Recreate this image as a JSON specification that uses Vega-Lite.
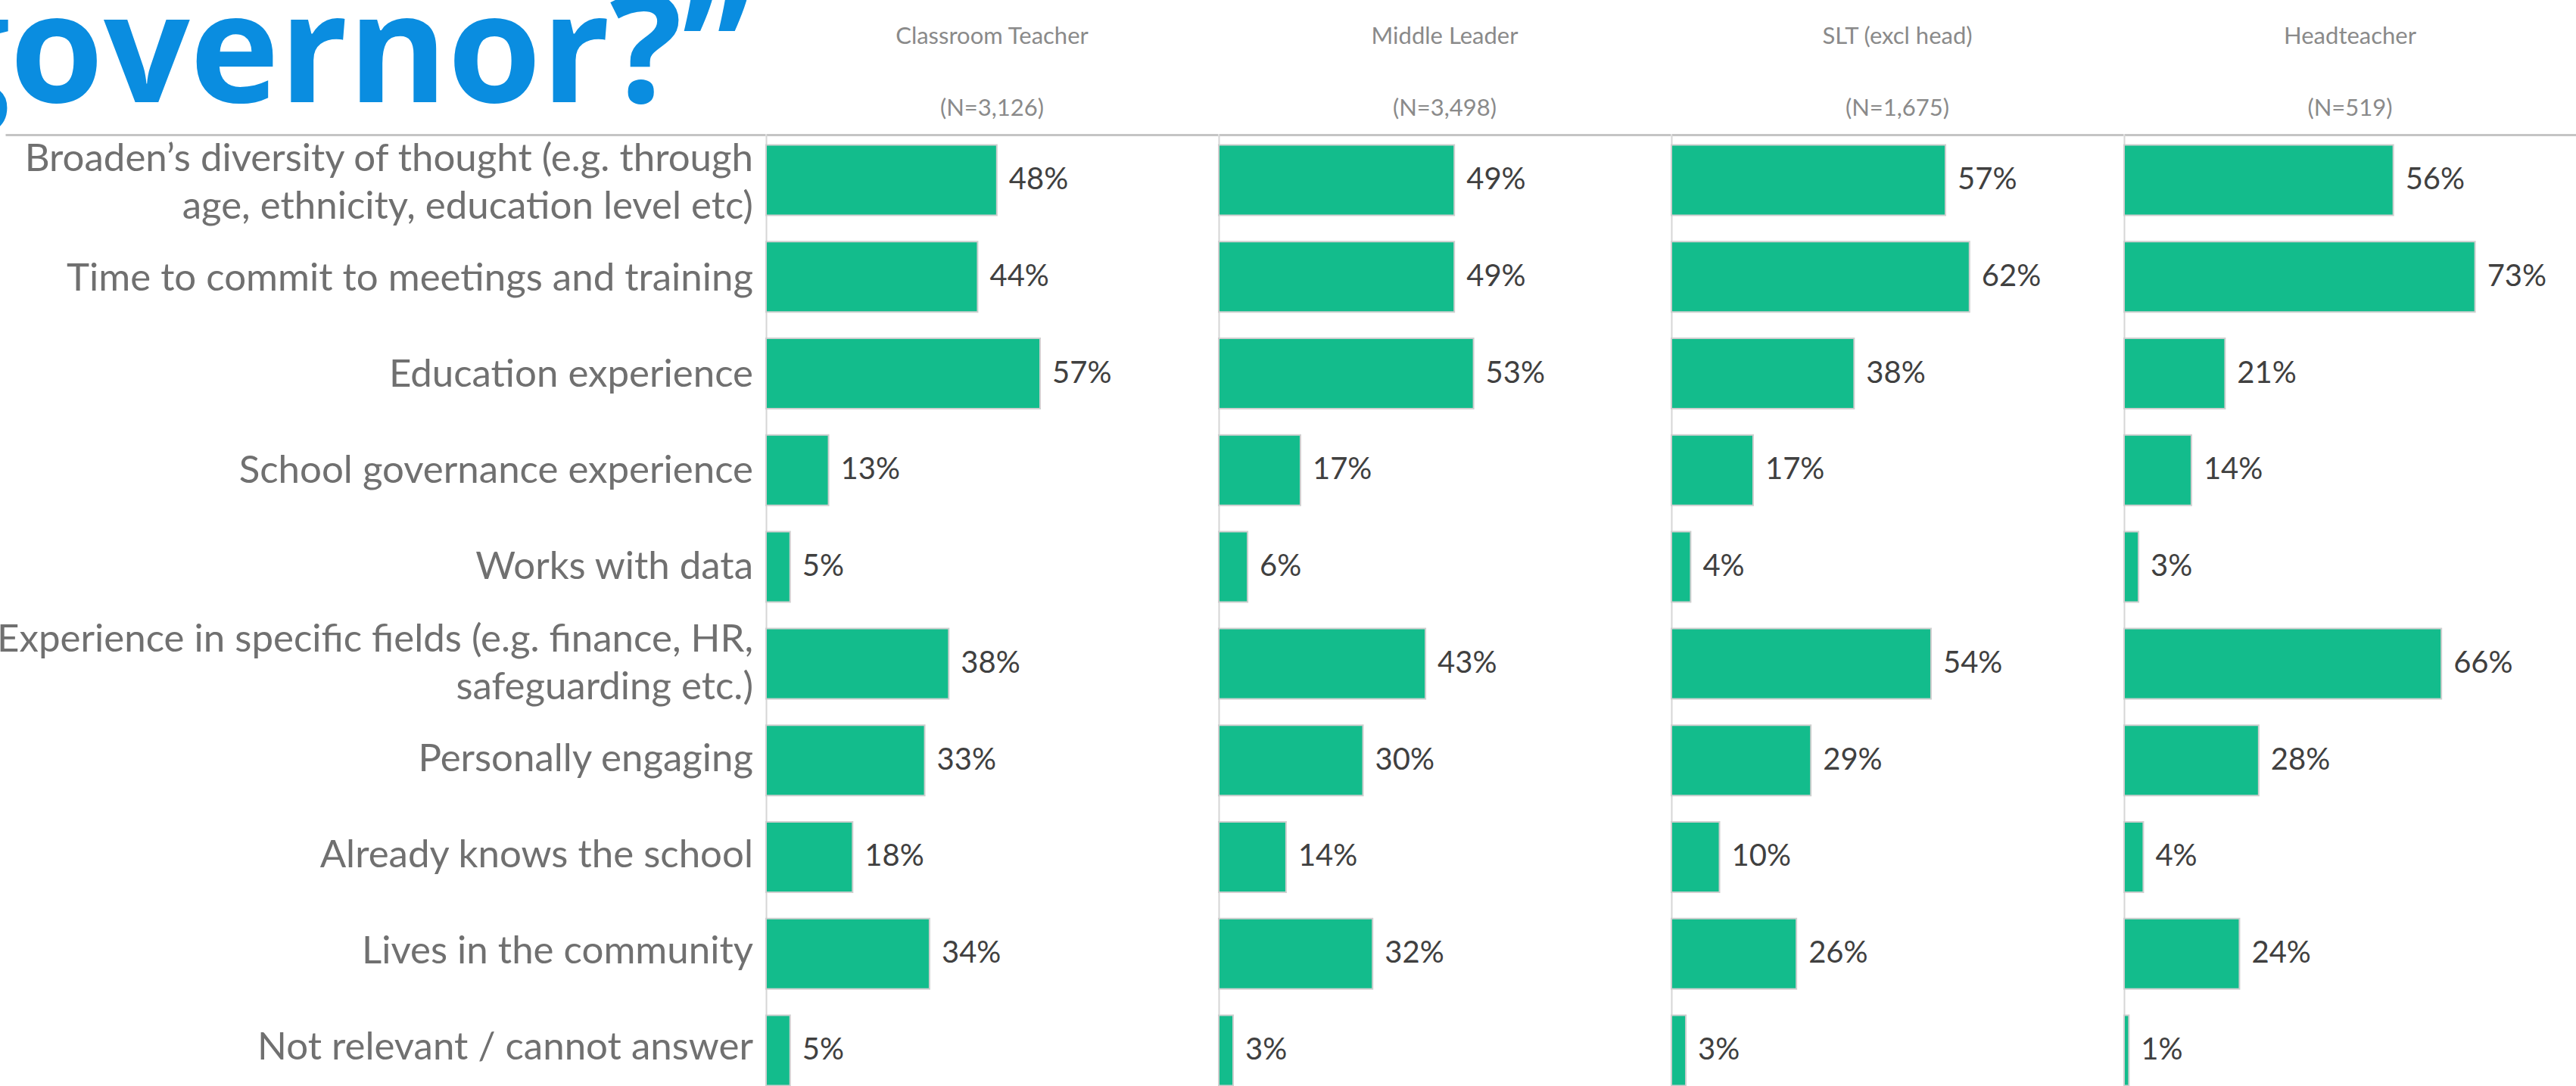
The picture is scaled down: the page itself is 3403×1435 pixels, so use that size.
{
  "$schema": "https://vega.github.io/schema/vega-lite/v6.json",
  "padding": {"left": -100, "top": -25, "right": 0, "bottom": 0},
  "background": "white",
  "spacing": 0,
  "config": {
    "view": {"stroke": null},
    "font": "Lato",
    "axis": {"minExtent": 0, "labelPadding": 0}
  },
  "datasets": {
    "survey": [
      {"item": "Broaden’s diversity of thought (e.g. through\nage, ethnicity, education level etc)", "role": "Classroom Teacher", "pct": 0.48},
      {"item": "Time to commit to meetings and training", "role": "Classroom Teacher", "pct": 0.44},
      {"item": "Education experience", "role": "Classroom Teacher", "pct": 0.57},
      {"item": "School governance experience", "role": "Classroom Teacher", "pct": 0.13},
      {"item": "Works with data", "role": "Classroom Teacher", "pct": 0.05},
      {"item": "Experience in specific fields (e.g. finance, HR,\nsafeguarding etc.)", "role": "Classroom Teacher", "pct": 0.38},
      {"item": "Personally engaging", "role": "Classroom Teacher", "pct": 0.33},
      {"item": "Already knows the school", "role": "Classroom Teacher", "pct": 0.18},
      {"item": "Lives in the community", "role": "Classroom Teacher", "pct": 0.34},
      {"item": "Not relevant / cannot answer", "role": "Classroom Teacher", "pct": 0.05},
      {"item": "Broaden’s diversity of thought (e.g. through\nage, ethnicity, education level etc)", "role": "Middle Leader", "pct": 0.49},
      {"item": "Time to commit to meetings and training", "role": "Middle Leader", "pct": 0.49},
      {"item": "Education experience", "role": "Middle Leader", "pct": 0.53},
      {"item": "School governance experience", "role": "Middle Leader", "pct": 0.17},
      {"item": "Works with data", "role": "Middle Leader", "pct": 0.06},
      {"item": "Experience in specific fields (e.g. finance, HR,\nsafeguarding etc.)", "role": "Middle Leader", "pct": 0.43},
      {"item": "Personally engaging", "role": "Middle Leader", "pct": 0.30},
      {"item": "Already knows the school", "role": "Middle Leader", "pct": 0.14},
      {"item": "Lives in the community", "role": "Middle Leader", "pct": 0.32},
      {"item": "Not relevant / cannot answer", "role": "Middle Leader", "pct": 0.03},
      {"item": "Broaden’s diversity of thought (e.g. through\nage, ethnicity, education level etc)", "role": "SLT (excl head)", "pct": 0.57},
      {"item": "Time to commit to meetings and training", "role": "SLT (excl head)", "pct": 0.62},
      {"item": "Education experience", "role": "SLT (excl head)", "pct": 0.38},
      {"item": "School governance experience", "role": "SLT (excl head)", "pct": 0.17},
      {"item": "Works with data", "role": "SLT (excl head)", "pct": 0.04},
      {"item": "Experience in specific fields (e.g. finance, HR,\nsafeguarding etc.)", "role": "SLT (excl head)", "pct": 0.54},
      {"item": "Personally engaging", "role": "SLT (excl head)", "pct": 0.29},
      {"item": "Already knows the school", "role": "SLT (excl head)", "pct": 0.10},
      {"item": "Lives in the community", "role": "SLT (excl head)", "pct": 0.26},
      {"item": "Not relevant / cannot answer", "role": "SLT (excl head)", "pct": 0.03},
      {"item": "Broaden’s diversity of thought (e.g. through\nage, ethnicity, education level etc)", "role": "Headteacher", "pct": 0.56},
      {"item": "Time to commit to meetings and training", "role": "Headteacher", "pct": 0.73},
      {"item": "Education experience", "role": "Headteacher", "pct": 0.21},
      {"item": "School governance experience", "role": "Headteacher", "pct": 0.14},
      {"item": "Works with data", "role": "Headteacher", "pct": 0.03},
      {"item": "Experience in specific fields (e.g. finance, HR,\nsafeguarding etc.)", "role": "Headteacher", "pct": 0.66},
      {"item": "Personally engaging", "role": "Headteacher", "pct": 0.28},
      {"item": "Already knows the school", "role": "Headteacher", "pct": 0.04},
      {"item": "Lives in the community", "role": "Headteacher", "pct": 0.24},
      {"item": "Not relevant / cannot answer", "role": "Headteacher", "pct": 0.01}
    ]
  },
  "data": {"name": "survey"},
  "hconcat": [
    {
      "width": 1004,
      "height": 1270,
      "title": {"text": "governor?”", "fontSize": 200, "font": "Open Sans", "fontWeight": "bold", "color": "#0a8de0", "anchor": "start", "dx": -96, "baseline": "alphabetic", "offset": -157},
      "transform": [{"filter": "datum.role === 'Classroom Teacher'"}],
      "encoding": {
        "y": {"field": "item", "type": "nominal", "scale": {"domain": ["Broaden’s diversity of thought (e.g. through\nage, ethnicity, education level etc)", "Time to commit to meetings and training", "Education experience", "School governance experience", "Works with data", "Experience in specific fields (e.g. finance, HR,\nsafeguarding etc.)", "Personally engaging", "Already knows the school", "Lives in the community", "Not relevant / cannot answer"], "paddingInner": 0.272, "paddingOuter": 0.106}, "axis": null},
        "x": {"datum": 1, "type": "quantitative", "scale": {"domain": [0, 1]}, "axis": {"orient": "top", "labels": false, "ticks": false, "grid": false, "title": null, "domainColor": "#c4c4c4", "domainWidth": 3}},
        "text": {"field": "item", "type": "nominal"}
      },
      "layer": [
        {
          "transform": [{"filter": "indexof(datum.item, '\\n') < 0"}],
          "mark": {"type": "text", "align": "right", "baseline": "middle", "dx": -16, "fontSize": 51, "color": "#707070"}
        },
        {
          "transform": [{"filter": "indexof(datum.item, '\\n') >= 0"}],
          "mark": {"type": "text", "align": "right", "baseline": "middle", "dx": -16, "dy": -31, "fontSize": 51, "color": "#707070", "lineBreak": "\n", "lineHeight": 63}
        }
      ]
    },
    {
      "width": 597,
      "height": 1270,
      "title": {"text": ["Classroom Teacher", "(N=3,126)"], "fontSize": 31, "font": "Lato", "color": "#8a8a8a", "fontWeight": "normal", "lineHeight": 95, "offset": 18, "anchor": "middle"},
      "transform": [{"filter": "datum.role === 'Classroom Teacher'"}],
      "encoding": {
        "y": {"field": "item", "type": "nominal", "scale": {"domain": ["Broaden’s diversity of thought (e.g. through\nage, ethnicity, education level etc)", "Time to commit to meetings and training", "Education experience", "School governance experience", "Works with data", "Experience in specific fields (e.g. finance, HR,\nsafeguarding etc.)", "Personally engaging", "Already knows the school", "Lives in the community", "Not relevant / cannot answer"], "paddingInner": 0.272, "paddingOuter": 0.106}, "axis": {"labels": false, "ticks": false, "grid": false, "title": null, "domainColor": "#d6d6d6", "domainWidth": 2}},
        "x": {"field": "pct", "type": "quantitative", "scale": {"domain": [0, 0.94]}, "axis": {"orient": "top", "labels": false, "ticks": false, "grid": false, "title": null, "domainColor": "#c4c4c4", "domainWidth": 3}}
      },
      "layer": [
        {"mark": {"type": "bar", "color": "#13bc8c", "stroke": "#cfcfcf", "strokeWidth": 2}},
        {"mark": {"type": "text", "align": "left", "baseline": "middle", "dx": 16, "fontSize": 40, "color": "#404040"}, "encoding": {"text": {"field": "pct", "type": "quantitative", "format": ".0%"}}}
      ]
    },
    {
      "width": 597,
      "height": 1270,
      "title": {"text": ["Middle Leader", "(N=3,498)"], "fontSize": 31, "font": "Lato", "color": "#8a8a8a", "fontWeight": "normal", "lineHeight": 95, "offset": 18, "anchor": "middle"},
      "transform": [{"filter": "datum.role === 'Middle Leader'"}],
      "encoding": {
        "y": {"field": "item", "type": "nominal", "scale": {"domain": ["Broaden’s diversity of thought (e.g. through\nage, ethnicity, education level etc)", "Time to commit to meetings and training", "Education experience", "School governance experience", "Works with data", "Experience in specific fields (e.g. finance, HR,\nsafeguarding etc.)", "Personally engaging", "Already knows the school", "Lives in the community", "Not relevant / cannot answer"], "paddingInner": 0.272, "paddingOuter": 0.106}, "axis": {"labels": false, "ticks": false, "grid": false, "title": null, "domainColor": "#d6d6d6", "domainWidth": 2}},
        "x": {"field": "pct", "type": "quantitative", "scale": {"domain": [0, 0.94]}, "axis": {"orient": "top", "labels": false, "ticks": false, "grid": false, "title": null, "domainColor": "#c4c4c4", "domainWidth": 3}}
      },
      "layer": [
        {"mark": {"type": "bar", "color": "#13bc8c", "stroke": "#cfcfcf", "strokeWidth": 2}},
        {"mark": {"type": "text", "align": "left", "baseline": "middle", "dx": 16, "fontSize": 40, "color": "#404040"}, "encoding": {"text": {"field": "pct", "type": "quantitative", "format": ".0%"}}}
      ]
    },
    {
      "width": 597,
      "height": 1270,
      "title": {"text": ["SLT (excl head)", "(N=1,675)"], "fontSize": 31, "font": "Lato", "color": "#8a8a8a", "fontWeight": "normal", "lineHeight": 95, "offset": 18, "anchor": "middle"},
      "transform": [{"filter": "datum.role === 'SLT (excl head)'"}],
      "encoding": {
        "y": {"field": "item", "type": "nominal", "scale": {"domain": ["Broaden’s diversity of thought (e.g. through\nage, ethnicity, education level etc)", "Time to commit to meetings and training", "Education experience", "School governance experience", "Works with data", "Experience in specific fields (e.g. finance, HR,\nsafeguarding etc.)", "Personally engaging", "Already knows the school", "Lives in the community", "Not relevant / cannot answer"], "paddingInner": 0.272, "paddingOuter": 0.106}, "axis": {"labels": false, "ticks": false, "grid": false, "title": null, "domainColor": "#d6d6d6", "domainWidth": 2}},
        "x": {"field": "pct", "type": "quantitative", "scale": {"domain": [0, 0.94]}, "axis": {"orient": "top", "labels": false, "ticks": false, "grid": false, "title": null, "domainColor": "#c4c4c4", "domainWidth": 3}}
      },
      "layer": [
        {"mark": {"type": "bar", "color": "#13bc8c", "stroke": "#cfcfcf", "strokeWidth": 2}},
        {"mark": {"type": "text", "align": "left", "baseline": "middle", "dx": 16, "fontSize": 40, "color": "#404040"}, "encoding": {"text": {"field": "pct", "type": "quantitative", "format": ".0%"}}}
      ]
    },
    {
      "width": 597,
      "height": 1270,
      "title": {"text": ["Headteacher", "(N=519)"], "fontSize": 31, "font": "Lato", "color": "#8a8a8a", "fontWeight": "normal", "lineHeight": 95, "offset": 18, "anchor": "middle"},
      "transform": [{"filter": "datum.role === 'Headteacher'"}],
      "encoding": {
        "y": {"field": "item", "type": "nominal", "scale": {"domain": ["Broaden’s diversity of thought (e.g. through\nage, ethnicity, education level etc)", "Time to commit to meetings and training", "Education experience", "School governance experience", "Works with data", "Experience in specific fields (e.g. finance, HR,\nsafeguarding etc.)", "Personally engaging", "Already knows the school", "Lives in the community", "Not relevant / cannot answer"], "paddingInner": 0.272, "paddingOuter": 0.106}, "axis": {"labels": false, "ticks": false, "grid": false, "title": null, "domainColor": "#d6d6d6", "domainWidth": 2}},
        "x": {"field": "pct", "type": "quantitative", "scale": {"domain": [0, 0.94]}, "axis": {"orient": "top", "labels": false, "ticks": false, "grid": false, "title": null, "domainColor": "#c4c4c4", "domainWidth": 3}}
      },
      "layer": [
        {"mark": {"type": "bar", "color": "#13bc8c", "stroke": "#cfcfcf", "strokeWidth": 2}},
        {"mark": {"type": "text", "align": "left", "baseline": "middle", "dx": 16, "fontSize": 40, "color": "#404040"}, "encoding": {"text": {"field": "pct", "type": "quantitative", "format": ".0%"}}}
      ]
    }
  ]
}
